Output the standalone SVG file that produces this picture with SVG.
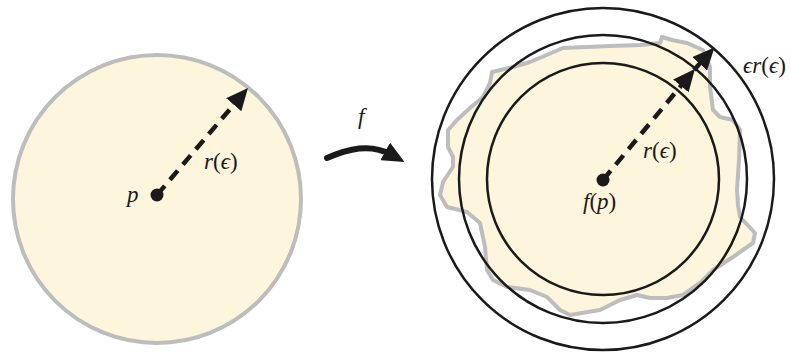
<svg xmlns="http://www.w3.org/2000/svg" width="791" height="353" viewBox="0 0 791 353">
  <style>
    .region { fill: #fdf5dc; stroke: #bdbdbd; stroke-width: 4; stroke-linejoin: round; }
    .ring { fill: none; stroke: #1a1a1a; stroke-width: 2.5; }
    .dash { fill: none; stroke: #1a1a1a; stroke-width: 4.5; stroke-dasharray: 12 8; }
    .solid { fill: none; stroke: #1a1a1a; stroke-width: 4.5; }
    .map { fill: none; stroke: #1a1a1a; stroke-width: 6; stroke-linecap: round; }
    .dot { fill: #1a1a1a; }
    .lbl { font-family: "Liberation Serif", "DejaVu Serif", serif; font-size: 23px; fill: #1a1a1a; font-style: italic; }
    .up { font-style: normal; }
  </style>
  <defs>
    <marker id="head" markerUnits="userSpaceOnUse" viewBox="0 0 22 20" markerWidth="22" markerHeight="20" refX="6" refY="10" orient="auto">
      <path d="M0,0 L22,10 L0,20 Z" fill="#1a1a1a"/>
    </marker>
  </defs>

  <g id="domain">
    <circle class="region" cx="157" cy="199" r="144"/>
    <path class="dash" d="M157,195 L237.6,100.2" marker-end="url(#head)"/>
    <circle class="dot" cx="157" cy="195" r="6.5"/>
    <text class="lbl" x="127" y="202">p</text>
    <text class="lbl" x="204" y="169">r<tspan class="up">(</tspan>ϵ<tspan class="up">)</tspan></text>
  </g>

  <g id="image">
    <path class="region" d="M610,46 L640,45 L660,43 L662,37 L672,40 L687,43 L703,50 L710,67 L710,87 L713,110 L720,117 L733,120 L740,130 L739,160 L737,190 L738,205 L740,217 L755,233 L753,243 L733,257 L713,270 L700,283 L683,295 L667,298 L650,298 L637,295 L620,300 L600,310 L570,315 L560,310 L547,297 L530,290 L507,287 L493,280 L487,270 L485,247 L480,223 L467,212 L447,207 L440,195 L443,182 L453,167 L453,157 L448,147 L448,130 L457,120 L470,108 L483,97 L490,83 L492,72 L513,67 L530,62 L563,48 Z"/>
    <circle class="ring" cx="603" cy="179" r="116"/>
    <circle class="ring" cx="603" cy="179" r="144"/>
    <circle class="ring" cx="603" cy="179" r="171"/>
  </g>

  <g id="connectors">
    <path class="map" d="M327,158 C348,149 370,143 390.5,154.3" marker-end="url(#head)"/>
    <path class="dash" d="M603,180 L684.7,81.3" marker-end="url(#head)"/>
    <path class="solid" d="M694,70 L703.7,59.3" marker-end="url(#head)"/>
  </g>

  <g id="image-labels">
    <circle class="dot" cx="603" cy="180" r="6.5"/>
    <text class="lbl" x="643" y="158">r<tspan class="up">(</tspan>ϵ<tspan class="up">)</tspan></text>
    <text class="lbl" x="583" y="209">f<tspan class="up">(</tspan>p<tspan class="up">)</tspan></text>
    <text class="lbl" x="743" y="73">ϵr<tspan class="up">(</tspan>ϵ<tspan class="up">)</tspan></text>
    <text class="lbl" x="358" y="124">f</text>
  </g>
</svg>
